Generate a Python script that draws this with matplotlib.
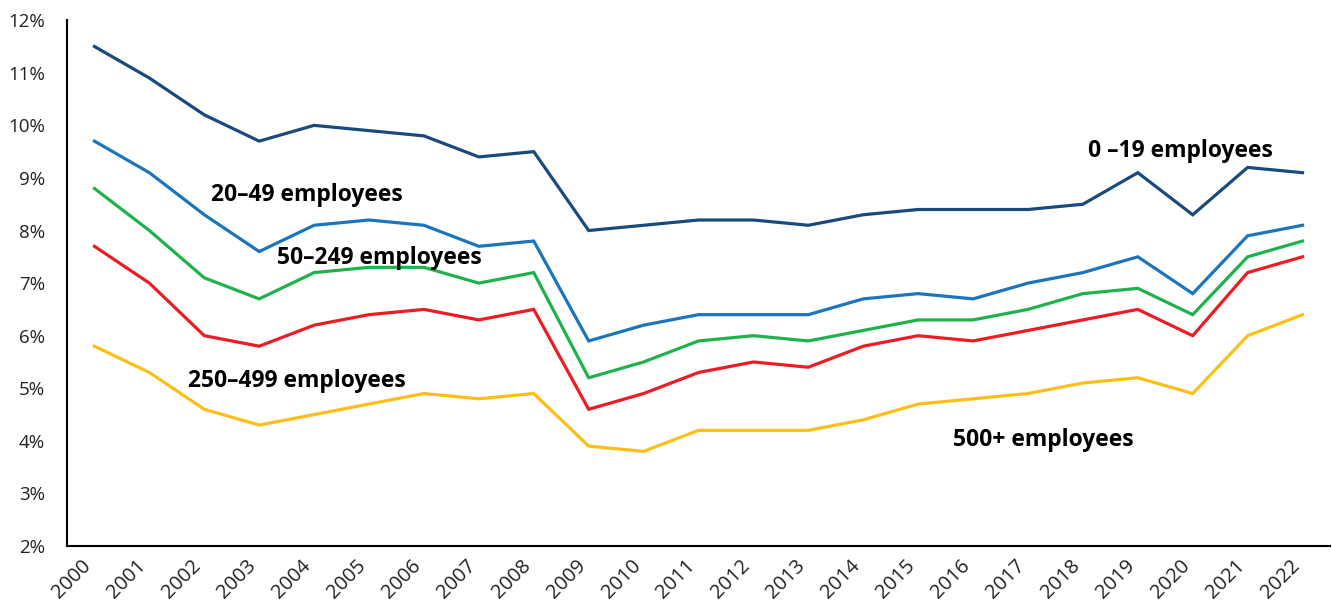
import matplotlib.pyplot as plt
import matplotlib.transforms as mtransforms
import numpy as np

plt.rcParams['font.family'] = ['Open Sans', 'DejaVu Sans']

years = list(range(2000, 2023))
emp_0_19 = [11.5, 10.9, 10.2, 9.7, 10.0, 9.9, 9.8, 9.4, 9.5, 8.0, 8.1, 8.2, 8.2, 8.1, 8.3, 8.4, 8.4, 8.4, 8.5, 9.1, 8.3, 9.2, 9.1]
emp_20_49 = [9.7, 9.1, 8.3, 7.6, 8.1, 8.2, 8.1, 7.7, 7.8, 5.9, 6.2, 6.4, 6.4, 6.4, 6.7, 6.8, 6.7, 7.0, 7.2, 7.5, 6.8, 7.9, 8.1]
emp_50_249 = [8.8, 8.0, 7.1, 6.7, 7.2, 7.3, 7.3, 7.0, 7.2, 5.2, 5.5, 5.9, 6.0, 5.9, 6.1, 6.3, 6.3, 6.5, 6.8, 6.9, 6.4, 7.5, 7.8]
emp_250_499 = [7.7, 7.0, 6.0, 5.8, 6.2, 6.4, 6.5, 6.3, 6.5, 4.6, 4.9, 5.3, 5.5, 5.4, 5.8, 6.0, 5.9, 6.1, 6.3, 6.5, 6.0, 7.2, 7.5]
emp_500 = [5.8, 5.3, 4.6, 4.3, 4.5, 4.7, 4.9, 4.8, 4.9, 3.9, 3.8, 4.2, 4.2, 4.2, 4.4, 4.7, 4.8, 4.9, 5.1, 5.2, 4.9, 6.0, 6.4]

# line values, colour, label text, label position (left edge, centre y) in data units
series = [
    (emp_0_19, '#1A4A7C', '0 \u201319 employees', (18.09, 9.51)),
    (emp_20_49, '#1B75BB', '20\u201349 employees', (2.13, 8.67)),
    (emp_50_249, '#1FB14C', '50\u2013249 employees', (3.32, 7.48)),
    (emp_250_499, '#EC1C24', '250\u2013499 employees', (1.71, 5.14)),
    (emp_500, '#FDBF17', '500+ employees', (15.64, 4.02)),
]

fig = plt.figure(figsize=(13.32, 6.03), dpi=100)
ax = fig.add_axes([0.0503, 0.0945, 0.9482, 0.872])

x = np.arange(len(years))
for vals, col, lab, pos in series:
    ax.plot(x, vals, color=col, linewidth=2.3, solid_joinstyle='miter')
    ax.text(pos[0], pos[1], lab, fontsize=16.5, fontweight='bold', ha='left', va='center', color='black')

ax.set_xlim(-0.5, 22.5)
ax.set_ylim(2, 12)
ax.set_yticks(range(2, 13))
ax.set_yticklabels([f'{v}%' for v in range(2, 13)], fontsize=13.5, color='#222222')
ax.set_xticks(x)
ax.set_xticklabels([str(y) for y in years], fontsize=14.5, rotation=45, ha='right', va='center',
                   rotation_mode='anchor', color='#222222')
ax.tick_params(length=0)
ax.tick_params(axis='x', pad=12)
ax.tick_params(axis='y', pad=16)
shift = mtransforms.ScaledTranslation(-6 / 100, 0, fig.dpi_scale_trans)
for t in ax.get_xticklabels():
    t.set_transform(t.get_transform() + shift)
ax.spines['top'].set_visible(False)
ax.spines['right'].set_visible(False)
ax.spines['left'].set_linewidth(1.5)
ax.spines['bottom'].set_linewidth(1.5)

fig.savefig('out.png', dpi=100)
